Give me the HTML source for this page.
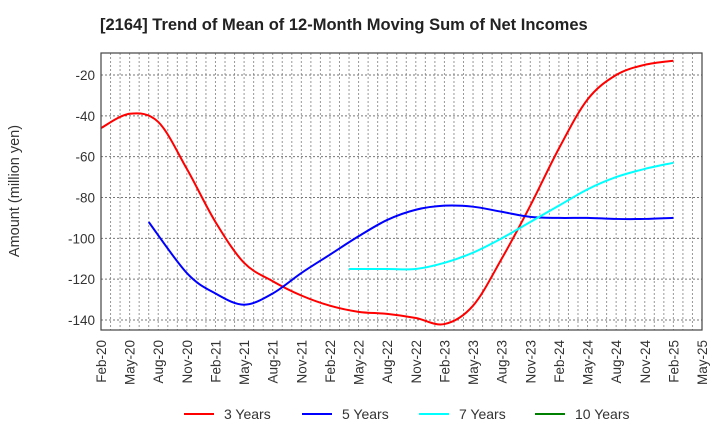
<!DOCTYPE html>
<html><head><meta charset="utf-8"><style>
body{margin:0;background:#fff;}
svg{display:block;font-family:"Liberation Sans",Arial,sans-serif;}
</style></head><body>
<svg id="chart" width="720" height="440">
<text x="100" y="30" font-size="16.5" font-weight="bold" fill="#222">[2164]  Trend of Mean of 12-Month Moving Sum of Net Incomes</text>
<text transform="translate(19,191) rotate(-90)" text-anchor="middle" font-size="14.5" fill="#333">Amount (million yen)</text>
<g id="grid"></g><g id="series"></g><g id="axes"></g>
<g id="legend"></g>
</svg>
<script>
const xLabels=["Feb-20","May-20","Aug-20","Nov-20","Feb-21","May-21","Aug-21","Nov-21","Feb-22","May-22","Aug-22","Nov-22","Feb-23","May-23","Aug-23","Nov-23","Feb-24","May-24","Aug-24","Nov-24","Feb-25","May-25"];
const yTicks=[-20,-40,-60,-80,-100,-120,-140];
const s3Months=[0,3,6,9,12,15,18,21,24,27,30,33,36,39,42,45,48,51,54,57,60];
const s3=[-46,-39,-43,-66,-92,-112,-121,-128,-133,-136,-137,-139,-142,-133,-110,-84,-56,-32,-20,-15,-13];
const s5Months=[5,9,12,15,18,21,24,27,30,33,36,39,42,45,48,51,54,57,60];
const s5=[-92,-117,-127,-132.5,-127,-117,-108,-99,-91,-86,-84,-84.5,-87,-89.5,-90,-90,-90.5,-90.5,-90];
const s7Months=[26,30,33,36,39,42,45,48,51,54,57,60];
const s7=[-115,-115,-115,-112,-107,-100,-92,-84,-76,-70,-66,-63];
const s10Months=[];
const s10=[];
const seriesNames=["3 Years","5 Years","7 Years","10 Years"];
const seriesColors=["#ff0000","#0000ff","#00ffff","#008000"];

const L=101,R=702,T=53,B=330;
const xm=m=>L+(R-L)*m/63;
const xq=q=>xm(q*3);
const y=v=>75+(-20-v)*(245/120);
const NS="http://www.w3.org/2000/svg";
function mk(tag,attrs,parent){const e=document.createElementNS(NS,tag);for(const k in attrs)e.setAttribute(k,attrs[k]);parent.appendChild(e);return e;}
const grid=document.getElementById('grid'),axes=document.getElementById('axes'),ser=document.getElementById('series'),leg=document.getElementById('legend');
for(let m=1;m<63;m++){const l=mk('line',{x1:xm(m),x2:xm(m),y1:T,y2:B,stroke:'#999','stroke-width':1,'stroke-dasharray':'2,2'},grid);

}
yTicks.forEach(v=>{const l=mk('line',{x1:L,x2:R,y1:y(v),y2:y(v),stroke:'#777','stroke-width':1,'stroke-dasharray':'2,2'},grid);


const t=mk('text',{x:L-6,y:y(v)+5,'text-anchor':'end','font-size':13.5,fill:'#333'},axes);t.textContent=v;

});
xLabels.forEach((s,i)=>{const t=mk('text',{transform:`translate(${xq(i)+5},340) rotate(-90)`,'text-anchor':'end','font-size':13.5,fill:'#333'},axes);t.textContent=s;

});
const fr=mk('rect',{x:L,y:T,width:R-L,height:B-T,fill:'none',stroke:'#444','stroke-width':1.2},axes);


function path(vals,months){if(!vals.length)return '';const p=vals.map((v,i)=>[xm(months[i]),y(v)]);let d=`M${p[0][0]},${p[0][1]}`;
for(let i=0;i<p.length-1;i++){const p0=p[i-1]||p[i],p1=p[i],p2=p[i+1],p3=p[i+2]||p2;
d+=` C${p1[0]+(p2[0]-p0[0])/6},${p1[1]+(p2[1]-p0[1])/6} ${p2[0]-(p3[0]-p1[0])/6},${p2[1]-(p3[1]-p1[1])/6} ${p2[0]},${p2[1]}`;}return d;}
[[s3,s3Months],[s5,s5Months],[s7,s7Months],[s10,s10Months]].forEach((s,k)=>{if(!s[0].length)return;const e=mk('path',{d:path(s[0],s[1]),fill:'none',stroke:seriesColors[k],'stroke-width':2},ser);

});
const lx=[184,302,419,535];
seriesNames.forEach((n,k)=>{const g=mk('g',{},leg);


mk('line',{x1:lx[k],x2:lx[k]+30,y1:414,y2:414,stroke:seriesColors[k],'stroke-width':2},g);
const t=mk('text',{x:lx[k]+40,y:419,'font-size':14,fill:'#333'},g);t.textContent=n;});
</script>
</body></html>
